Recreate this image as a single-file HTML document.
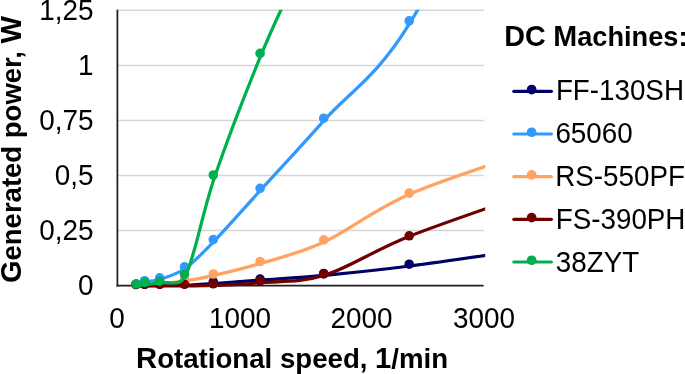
<!DOCTYPE html><html><head><meta charset="utf-8"><title>DC Machines chart</title>
<style>html,body{margin:0;padding:0;background:#fff}body{width:685px;height:374px;overflow:hidden;position:relative;font-family:"Liberation Sans",sans-serif;color:#000}
svg text{font-family:"Liberation Sans",sans-serif;fill:#000}
.b{font-weight:bold}
</style></head><body>
<svg width="685" height="374" viewBox="0 0 685 374" style="display:block;position:absolute;left:0;top:0">
<rect width="685" height="374" fill="#fff"/>
<defs><clipPath id="pc"><rect x="116" y="9.8" width="369.2" height="280"/></clipPath></defs>
<line x1="117.4" x2="483.8" y1="10.35" y2="10.35" stroke="#d6d6d6" stroke-width="1.5"/>
<line x1="117.4" x2="483.8" y1="65.40" y2="65.40" stroke="#d6d6d6" stroke-width="1.5"/>
<line x1="117.4" x2="483.8" y1="120.45" y2="120.45" stroke="#d6d6d6" stroke-width="1.5"/>
<line x1="117.4" x2="483.8" y1="175.50" y2="175.50" stroke="#d6d6d6" stroke-width="1.5"/>
<line x1="117.4" x2="483.8" y1="230.50" y2="230.50" stroke="#d6d6d6" stroke-width="1.5"/>
<line x1="117.4" x2="117.4" y1="9.8" y2="286.4" stroke="#1f1f1f" stroke-width="1.75"/>
<line x1="116.6" x2="483.6" y1="285.55" y2="285.55" stroke="#1f1f1f" stroke-width="1.75"/>
<g clip-path="url(#pc)">
<path d="M136.90,285.70 C139.77,285.67 141.55,285.63 145.50,285.60 C149.45,285.57 153.95,285.55 160.60,285.50 C167.25,285.45 176.47,285.62 185.40,285.30 C194.33,284.98 201.60,284.47 214.20,283.60 C226.80,282.73 242.60,281.48 261.00,280.10 C279.40,278.72 299.75,277.65 324.60,275.30 C349.45,272.95 373.22,270.75 410.10,266.00 C446.98,261.25 500.63,253.20 545.90,246.80" fill="none" stroke="#000066" stroke-width="3.25" stroke-linecap="round" stroke-linejoin="round"/>
<circle cx="136.0" cy="284.4" r="4.8" fill="#000066"/>
<circle cx="144.6" cy="284.3" r="4.8" fill="#000066"/>
<circle cx="159.7" cy="284.2" r="4.8" fill="#000066"/>
<circle cx="184.5" cy="283.8" r="4.8" fill="#000066"/>
<circle cx="213.3" cy="281.8" r="4.8" fill="#000066"/>
<circle cx="260.1" cy="279.1" r="4.8" fill="#000066"/>
<circle cx="323.7" cy="273.5" r="4.8" fill="#000066"/>
<circle cx="409.2" cy="264.2" r="4.8" fill="#000066"/>
<path d="M136.90,285.50 C139.77,284.33 141.55,283.05 145.50,282.00 C149.45,280.95 153.95,281.48 160.60,279.20 C167.25,276.92 176.47,274.65 185.40,268.30 C194.33,261.95 201.60,254.20 214.20,241.10 C226.80,228.00 242.60,209.92 261.00,189.70 C279.40,169.48 299.75,147.63 324.60,119.80 C349.45,91.97 376.43,77.93 410.10,22.70 C446.98,-37.80 500.63,-154.57 545.90,-243.20" fill="none" stroke="#3399ff" stroke-width="3.25" stroke-linecap="round" stroke-linejoin="round"/>
<circle cx="136.0" cy="284.2" r="4.8" fill="#3399ff"/>
<circle cx="144.6" cy="280.7" r="4.8" fill="#3399ff"/>
<circle cx="159.7" cy="277.9" r="4.8" fill="#3399ff"/>
<circle cx="184.5" cy="266.9" r="4.8" fill="#3399ff"/>
<circle cx="213.3" cy="239.6" r="4.8" fill="#3399ff"/>
<circle cx="260.1" cy="188.3" r="4.8" fill="#3399ff"/>
<circle cx="323.7" cy="118.2" r="4.8" fill="#3399ff"/>
<circle cx="409.2" cy="20.9" r="4.8" fill="#3399ff"/>
<path d="M136.90,284.90 C139.77,284.77 141.55,284.68 145.50,284.50 C149.45,284.32 153.95,284.42 160.60,283.80 C167.25,283.18 176.47,282.22 185.40,280.80 C194.33,279.38 201.60,278.22 214.20,275.30 C226.80,272.38 242.60,268.90 261.00,263.30 C279.40,257.70 299.75,253.27 324.60,241.70 C349.45,230.13 373.22,209.85 410.10,193.90 C446.98,177.95 500.63,161.97 545.90,146.00" fill="none" stroke="#ffa262" stroke-width="3.25" stroke-linecap="round" stroke-linejoin="round"/>
<circle cx="136.0" cy="284.6" r="4.8" fill="#ffa262"/>
<circle cx="144.6" cy="284.2" r="4.8" fill="#ffa262"/>
<circle cx="159.7" cy="283.2" r="4.8" fill="#ffa262"/>
<circle cx="184.5" cy="279.0" r="4.8" fill="#ffa262"/>
<circle cx="213.3" cy="274.0" r="4.8" fill="#ffa262"/>
<circle cx="260.1" cy="261.5" r="4.8" fill="#ffa262"/>
<circle cx="323.7" cy="239.9" r="4.8" fill="#ffa262"/>
<circle cx="409.2" cy="193.1" r="4.8" fill="#ffa262"/>
<path d="M136.90,285.80 C139.77,285.80 141.55,285.80 145.50,285.80 C149.45,285.80 153.95,285.80 160.60,285.80 C167.25,285.80 176.47,285.87 185.40,285.80 C194.33,285.73 201.60,285.93 214.20,285.40 C226.80,284.87 242.60,284.28 261.00,282.60 C279.40,280.92 299.75,283.07 324.60,275.30 C349.45,267.53 373.22,250.58 410.10,236.00 C446.98,221.42 500.63,203.87 545.90,187.80" fill="none" stroke="#700000" stroke-width="3.25" stroke-linecap="round" stroke-linejoin="round"/>
<circle cx="136.0" cy="284.5" r="4.8" fill="#700000"/>
<circle cx="144.6" cy="284.4" r="4.8" fill="#700000"/>
<circle cx="159.7" cy="284.4" r="4.8" fill="#700000"/>
<circle cx="184.5" cy="284.3" r="4.8" fill="#700000"/>
<circle cx="213.3" cy="283.8" r="4.8" fill="#700000"/>
<circle cx="260.1" cy="280.8" r="4.8" fill="#700000"/>
<circle cx="323.7" cy="273.9" r="4.8" fill="#700000"/>
<circle cx="409.2" cy="235.8" r="4.8" fill="#700000"/>
<path d="M136.90,285.80 C139.77,285.37 141.55,285.03 145.50,284.50 C149.45,283.97 153.95,284.02 160.60,282.60 C167.25,281.18 179.56,287.42 185.40,276.00 C194.42,258.37 202.10,213.60 214.70,176.80 C227.30,140.00 246.63,90.20 261.00,55.20 C275.37,20.20 287.60,-3.73 300.90,-33.20" fill="none" stroke="#00b050" stroke-width="3.25" stroke-linecap="round" stroke-linejoin="round"/>
<circle cx="136.3" cy="284.0" r="4.8" fill="#00b050"/>
<circle cx="144.9" cy="282.4" r="4.8" fill="#00b050"/>
<circle cx="159.7" cy="281.1" r="4.8" fill="#00b050"/>
<circle cx="184.5" cy="274.2" r="4.8" fill="#00b050"/>
<circle cx="213.3" cy="175.0" r="4.8" fill="#00b050"/>
<circle cx="260.1" cy="53.4" r="4.8" fill="#00b050"/>
</g>
<line x1="513.8" x2="551.4" y1="91.30" y2="91.30" stroke="#000066" stroke-width="3.2" stroke-linecap="round"/>
<ellipse cx="531.65" cy="89.55" rx="4.85" ry="4.85" fill="#000066"/>
<line x1="513.8" x2="551.4" y1="133.98" y2="133.98" stroke="#3399ff" stroke-width="3.2" stroke-linecap="round"/>
<ellipse cx="531.65" cy="132.23" rx="4.85" ry="4.85" fill="#3399ff"/>
<line x1="513.8" x2="551.4" y1="176.66" y2="176.66" stroke="#ffa262" stroke-width="3.2" stroke-linecap="round"/>
<ellipse cx="531.65" cy="174.91" rx="4.85" ry="4.85" fill="#ffa262"/>
<line x1="513.8" x2="551.4" y1="219.34" y2="219.34" stroke="#700000" stroke-width="3.2" stroke-linecap="round"/>
<ellipse cx="531.65" cy="217.59" rx="4.85" ry="4.85" fill="#700000"/>
<line x1="513.8" x2="551.4" y1="262.02" y2="262.02" stroke="#00b050" stroke-width="3.2" stroke-linecap="round"/>
<ellipse cx="531.65" cy="260.27" rx="4.85" ry="4.85" fill="#00b050"/>

<text class="yl" transform="translate(93.60,19.80) scale(0.9960,1.0400)" font-size="28" text-anchor="end">1,25</text>
<text class="yl" transform="translate(93.60,74.80) scale(0.9960,1.0400)" font-size="28" text-anchor="end">1</text>
<text class="yl" transform="translate(93.60,129.80) scale(0.9960,1.0400)" font-size="28" text-anchor="end">0,75</text>
<text class="yl" transform="translate(93.60,184.80) scale(0.9960,1.0400)" font-size="28" text-anchor="end">0,5</text>
<text class="yl" transform="translate(93.60,239.80) scale(0.9960,1.0400)" font-size="28" text-anchor="end">0,25</text>
<text class="yl" transform="translate(93.60,294.80) scale(0.9960,1.0400)" font-size="28" text-anchor="end">0</text>
<text class="xl" transform="translate(117.00,328.00) scale(0.9960,1.0400)" font-size="28" text-anchor="middle">0</text>
<text class="xl" transform="translate(239.90,328.00) scale(0.9960,1.0400)" font-size="28" text-anchor="middle">1000</text>
<text class="xl" transform="translate(361.50,328.00) scale(0.9960,1.0400)" font-size="28" text-anchor="middle">2000</text>
<text class="xl" transform="translate(484.00,328.00) scale(0.9960,1.0400)" font-size="28" text-anchor="middle">3000</text>
<text class="b xt" transform="translate(136.10,368.30) scale(1.0030,1.0000)" font-size="27.55" text-anchor="start"><tspan font-size="29.1">R</tspan>otational speed, <tspan font-size="29.1">1</tspan>/min</text>
<text class="b lt" transform="translate(504.30,45.60) scale(0.9865,1.0000)" font-size="27.55" text-anchor="start"><tspan font-size="29.1">DC</tspan> <tspan font-size="29.1">M</tspan>achines:</text>
<text class="ln" transform="translate(555.90,100.30) scale(0.9920,1.0400)" font-size="28" text-anchor="start">FF-130SH</text>
<text class="ln" transform="translate(555.40,143.10) scale(0.9920,1.0400)" font-size="28" text-anchor="start">65060</text>
<text class="ln" transform="translate(555.30,185.90) scale(0.9920,1.0400)" font-size="28" text-anchor="start">RS-550PF</text>
<text class="ln" transform="translate(555.80,228.70) scale(0.9920,1.0400)" font-size="28" text-anchor="start">FS-390PH</text>
<text class="ln" transform="translate(555.80,271.50) scale(0.9920,1.0400)" font-size="28" text-anchor="start">38ZYT</text>
<text class="b yt" transform="translate(21.10,283.10) rotate(-90) scale(0.9990,1.0000)" font-size="27.55" text-anchor="start"><tspan font-size="29.1">G</tspan>enerated power, <tspan font-size="29.1">W</tspan></text>
</svg></body></html>
